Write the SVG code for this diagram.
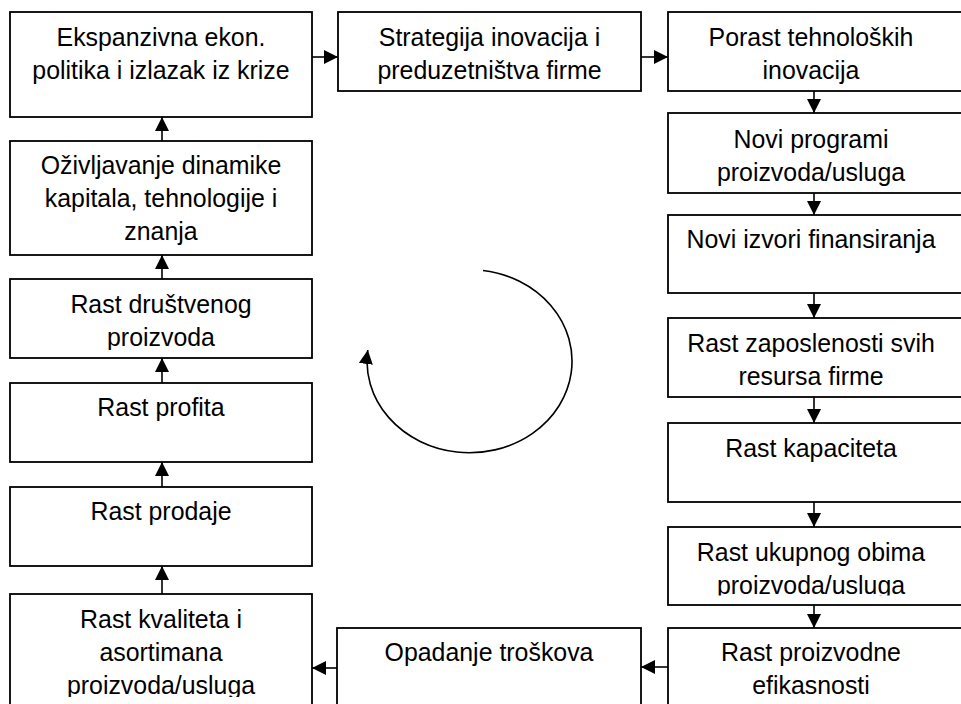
<svg xmlns="http://www.w3.org/2000/svg" width="961" height="704" viewBox="0 0 961 704">
  <style>
    .box { fill: #ffffff; stroke: #000000; stroke-width: 1.8; }
    .lbl { font-family: "Liberation Sans", Arial, sans-serif; font-size: 24.9px; fill: #000000; text-anchor: middle; }
    .con { fill: none; stroke: #000000; stroke-width: 1.6; marker-end: url(#head); }
  </style>
  <defs>
    <marker id="head" markerUnits="userSpaceOnUse" markerWidth="14" markerHeight="14" viewBox="0 0 14 14" refX="14" refY="7" orient="auto">
      <path d="M0,0 L14,7 L0,14 z" fill="#000000"/>
    </marker>
    <!-- text areas that cut off the descenders of the last line -->
    <clipPath id="clip-programi" clipPathUnits="userSpaceOnUse"><rect x="668" y="113" width="295" height="73"/></clipPath>
    <clipPath id="clip-drustveni" clipPathUnits="userSpaceOnUse"><rect x="10" y="279" width="302" height="71"/></clipPath>
    <clipPath id="clip-obim" clipPathUnits="userSpaceOnUse"><rect x="668" y="527" width="295" height="68.5"/></clipPath>
    <clipPath id="clip-kvalitet" clipPathUnits="userSpaceOnUse"><rect x="10" y="594" width="302" height="103"/></clipPath>
  </defs>

  <!-- top row -->
  <g id="n-ekspanzivna">
    <rect class="box" x="10" y="12" width="302" height="105"/>
    <text class="lbl" x="161" y="46">Ekspanzivna ekon.</text>
    <text class="lbl" x="161" y="79">politika i izlazak iz krize</text>
  </g>
  <g id="n-strategija">
    <rect class="box" x="338" y="12" width="303" height="79"/>
    <text class="lbl" x="489.5" y="46">Strategija inovacija i</text>
    <text class="lbl" x="489.5" y="79">preduzetništva firme</text>
  </g>
  <g id="n-porast">
    <rect class="box" x="668" y="12" width="297" height="79"/>
    <text class="lbl" x="811" y="46">Porast tehnoloških</text>
    <text class="lbl" x="811" y="79">inovacija</text>
  </g>

  <!-- right column -->
  <g id="n-programi">
    <rect class="box" x="668" y="113" width="297" height="80"/>
    <g clip-path="url(#clip-programi)">
      <text class="lbl" x="811" y="147.5">Novi programi</text>
      <text class="lbl" x="811" y="181">proizvoda/usluga</text>
    </g>
  </g>
  <g id="n-izvori">
    <rect class="box" x="668" y="215" width="297" height="78"/>
    <text class="lbl" x="811" y="247.5">Novi izvori finansiranja</text>
  </g>
  <g id="n-zaposlenost">
    <rect class="box" x="668" y="318" width="297" height="79"/>
    <text class="lbl" x="811" y="351.5">Rast zaposlenosti svih</text>
    <text class="lbl" x="811" y="384.5">resursa firme</text>
  </g>
  <g id="n-kapacitet">
    <rect class="box" x="668" y="423" width="297" height="79"/>
    <text class="lbl" x="811" y="456.5">Rast kapaciteta</text>
  </g>
  <g id="n-obim">
    <rect class="box" x="668" y="527" width="297" height="78"/>
    <g clip-path="url(#clip-obim)">
      <text class="lbl" x="811" y="561">Rast ukupnog obima</text>
      <text class="lbl" x="811" y="593.5">proizvoda/usluga</text>
    </g>
  </g>
  <g id="n-efikasnost">
    <rect class="box" x="668" y="628" width="297" height="90"/>
    <text class="lbl" x="811" y="661">Rast proizvodne</text>
    <text class="lbl" x="811" y="693.5">efikasnosti</text>
  </g>

  <!-- bottom row -->
  <g id="n-troskovi">
    <rect class="box" x="337" y="628" width="304" height="90"/>
    <text class="lbl" x="489" y="661">Opadanje troškova</text>
  </g>

  <!-- left column -->
  <g id="n-kvalitet">
    <rect class="box" x="10" y="594" width="302" height="124"/>
    <g clip-path="url(#clip-kvalitet)">
      <text class="lbl" x="161" y="627.5">Rast kvaliteta i</text>
      <text class="lbl" x="161" y="660.5">asortimana</text>
      <text class="lbl" x="161" y="693.5">proizvoda/usluga</text>
    </g>
  </g>
  <g id="n-prodaja">
    <rect class="box" x="10" y="487" width="302" height="79"/>
    <text class="lbl" x="161" y="520">Rast prodaje</text>
  </g>
  <g id="n-profit">
    <rect class="box" x="10" y="383" width="302" height="79"/>
    <text class="lbl" x="161" y="416">Rast profita</text>
  </g>
  <g id="n-drustveni">
    <rect class="box" x="10" y="279" width="302" height="79"/>
    <g clip-path="url(#clip-drustveni)">
      <text class="lbl" x="161" y="313">Rast društvenog</text>
      <text class="lbl" x="161" y="346">proizvoda</text>
    </g>
  </g>
  <g id="n-ozivljavanje">
    <rect class="box" x="10" y="141" width="302" height="114"/>
    <text class="lbl" x="161" y="174">Oživljavanje dinamike</text>
    <text class="lbl" x="161" y="207">kapitala, tehnologije i</text>
    <text class="lbl" x="161" y="240">znanja</text>
  </g>

  <!-- connectors -->
  <g id="connectors">
    <line class="con" x1="312" y1="57" x2="338" y2="57"/>
    <line class="con" x1="641" y1="57" x2="668" y2="57"/>
    <line class="con" x1="814" y1="91" x2="814" y2="113"/>
    <line class="con" x1="814" y1="193" x2="814" y2="215"/>
    <line class="con" x1="814" y1="293" x2="814" y2="318"/>
    <line class="con" x1="814" y1="397" x2="814" y2="423"/>
    <line class="con" x1="814" y1="502" x2="814" y2="527"/>
    <line class="con" x1="814" y1="605" x2="814" y2="628"/>
    <line class="con" x1="668" y1="667" x2="641" y2="667"/>
    <line class="con" x1="337" y1="668" x2="312" y2="668"/>
    <line class="con" x1="162" y1="594" x2="162" y2="566"/>
    <line class="con" x1="162" y1="487" x2="162" y2="462"/>
    <line class="con" x1="162" y1="383" x2="162" y2="358"/>
    <line class="con" x1="162" y1="279" x2="162" y2="255"/>
    <line class="con" x1="162" y1="141" x2="162" y2="117"/>
    <!-- circular cycle arrow in the middle -->
    <path class="con" d="M 483 270.5 A 102.5 91.5 0 1 1 367.8 350"/>
  </g>
</svg>
